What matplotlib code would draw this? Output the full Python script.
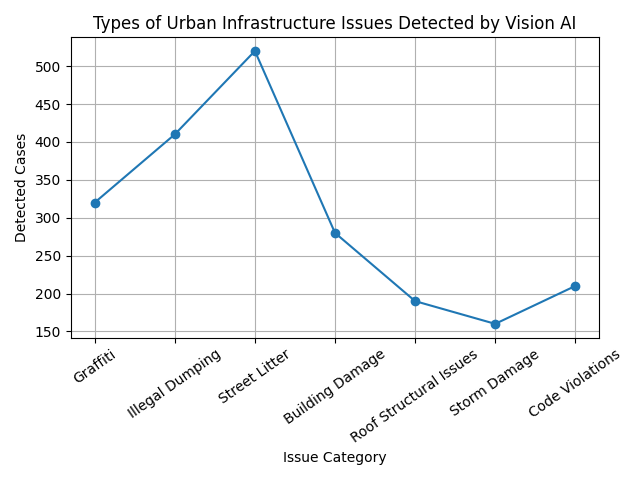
import matplotlib
matplotlib.use("Agg")
import matplotlib.pyplot as plt

categories = ["Graffiti", "Illegal Dumping", "Street Litter", "Building Damage",
              "Roof Structural Issues", "Storm Damage", "Code Violations"]
cases = [320, 410, 520, 280, 190, 160, 210]

fig, ax = plt.subplots(figsize=(6.4, 4.8), dpi=100)
ax.plot(categories, cases, marker="o")
ax.set_title("Types of Urban Infrastructure Issues Detected by Vision AI")
ax.set_xlabel("Issue Category")
ax.set_ylabel("Detected Cases")
ax.grid(True)
plt.xticks(rotation=35)
fig.tight_layout()
fig.savefig("out.png")
